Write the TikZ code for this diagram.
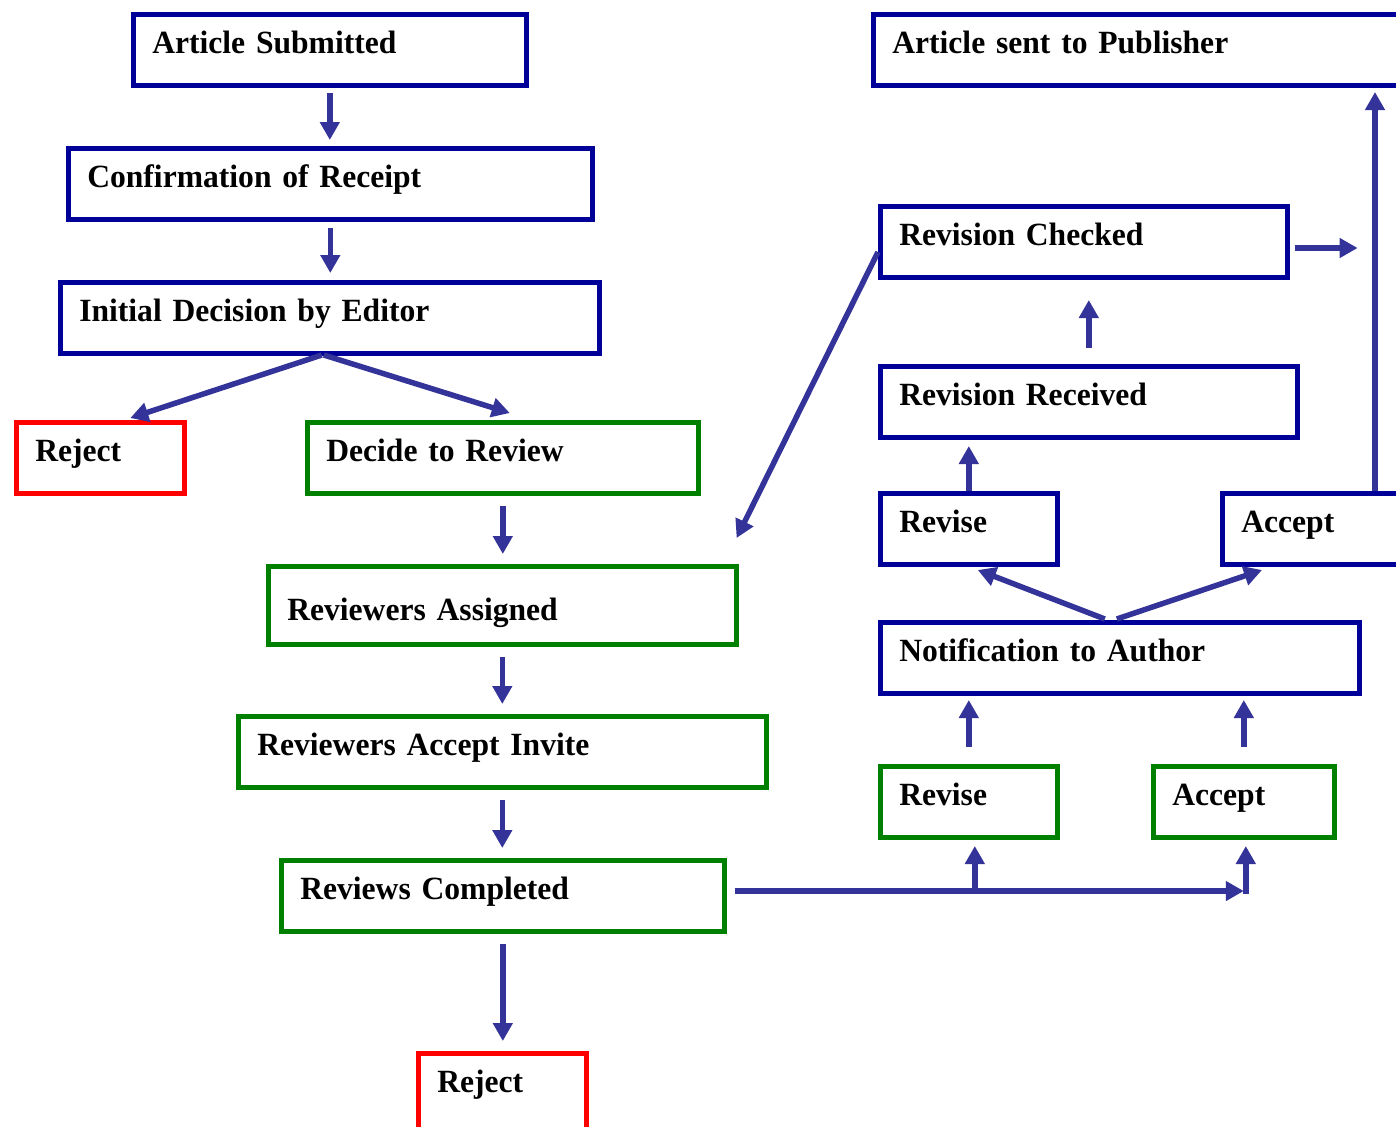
\documentclass[tikz,border=0pt]{standalone}
\usepackage{fontspec}
\setmainfont{Liberation Serif}[FakeStretch=0.975]
\usetikzlibrary{arrows.meta,calc}
\definecolor{boxblue}{RGB}{0,0,153}
\definecolor{boxgreen}{RGB}{0,128,0}
\definecolor{boxred}{RGB}{255,0,0}
\definecolor{flowblue}{RGB}{51,51,153}

\begin{document}
\begin{tikzpicture}[x=0.5pt, y=-0.5pt,
    stage/.style={draw=boxblue, line width=2.5pt, anchor=north west,
        inner xsep=9.4pt, inner ysep=0pt, text height=19.5pt, text depth=16pt,
        align=left, text width=#1, font=\fontsize{16.2pt}{19pt}\selectfont\bfseries},
    flow/.style={draw=flowblue, line width=2.75pt, -{Triangle[width=9.5pt,length=9pt]},
        shorten <=5pt, shorten >=5pt}]
    \useasboundingbox (0,0) rectangle (1396,1126);

    % left column
    \node[stage=177.5pt] (sub) at (131,12) {Article Submitted};
    \node[stage=243pt] (conf) at (66,146) {Confirmation of Receipt};
    \node[stage=250.5pt] (init) at (58,280) {Initial Decision by Editor};
    \node[stage=65pt, draw=boxred] (rejA) at (14,420) {Reject};
    \node[stage=176.5pt, draw=boxgreen] (decide) at (305,420) {Decide to Review};
    \node[stage=215pt, draw=boxgreen, text height=27pt, text depth=12pt] (assign) at (266,564) {Reviewers Assigned};
    \node[stage=245pt, draw=boxgreen] (invite) at (236,714) {Reviewers Accept Invite};
    \node[stage=202.5pt, draw=boxgreen] (done) at (279,858) {Reviews Completed};
    \node[stage=65pt, draw=boxred, text depth=24pt] (rejB) at (416,1051) {Reject};

    % right column
    \node[stage=258.5pt] (pub) at (871,12) {Article sent to Publisher};
    \node[stage=184.5pt] (checked) at (878,204) {Revision Checked};
    \node[stage=189.5pt] (received) at (878,364) {Revision Received};
    \node[stage=69.5pt] (revA) at (878,491) {Revise};
    \node[stage=78.5pt] (accA) at (1220,491) {Accept};
    \node[stage=220.5pt] (notify) at (878,620) {Notification to Author};
    \node[stage=69.5pt, draw=boxgreen] (revB) at (878,764) {Revise};
    \node[stage=71.5pt, draw=boxgreen] (accB) at (1151,764) {Accept};

    \draw[flow, shorten <=2.5pt, shorten >=3pt] (sub.south) -- (sub.south |- conf.north);
    \draw[flow, shorten <=3pt, shorten >=3.5pt] (conf.south) -- (conf.south |- init.north);
    \draw[flow, shorten <=0pt, shorten >=0pt] ($(init.south)+(-8,-1)$) -- ($(rejA.north)+(30,-2)$);
    \draw[flow, shorten <=0pt, shorten >=0pt] ($(init.south)+(-6,-1)$) -- ($(decide.north)+(7,-7)$);
    \draw[flow] (decide.south) -- (decide.south |- assign.north);
    \draw[flow] (assign.south) -- (assign.south |- invite.north);
    \draw[flow] (invite.south) -- (invite.south |- done.north);
    \draw[flow] (done.south) -- (done.south |- rejB.north);

    \coordinate (bus) at ($(done.east)+(0,-5)$);
    \draw[flow, shorten <=4pt, shorten >=0pt] (bus) -- (bus -| accB.south);
    \draw[flow, shorten <=-1.4pt, shorten >=3pt] ($(bus -| accB.south)+(2,0)$) -- ($(accB.south)+(2,0)$);
    \draw[flow, shorten <=-1.4pt, shorten >=3pt] ($(bus -| revB.south)+(6,0)$) -- ($(revB.south)+(6,0)$);
    \draw[flow, shorten <=8.5pt, shorten >=2pt] (revB.north) -- (revB.north |- notify.south);
    \draw[flow, shorten <=8.5pt, shorten >=2pt] (accB.north) -- (accB.north |- notify.south);
    \draw[flow, shorten <=0pt, shorten >=0pt] ($(notify.north)+(-15,-1)$) -- ($(revA.south)+(9,3)$);
    \draw[flow, shorten <=0pt, shorten >=0pt] ($(notify.north)+(-3,-1)$) -- ($(accA.south west)+(42,3)$);
    \draw[flow, shorten <=0pt, shorten >=3pt] (revA.north) -- (revA.north |- received.south);
    \draw[flow, shorten <=8pt, shorten >=10pt] (received.north) -- (received.north |- checked.south);

    \coordinate (pubside) at ($(checked.east)+(68,6)$);
    \draw[flow, shorten <=2.5pt, shorten >=0pt] ($(checked.east)+(0,6)$) -- (pubside);
    \coordinate (accup) at ($(accA.north west)+(155,0)$);
    \draw[flow, shorten <=0pt, shorten >=2pt] (accup) -- (accup |- pub.south);
    \draw[flow, shorten <=0pt, shorten >=0pt] ($(checked.west)+(0,10)$) -- ($(assign.north east)+(-2,-26)$);
\end{tikzpicture}
\end{document}
